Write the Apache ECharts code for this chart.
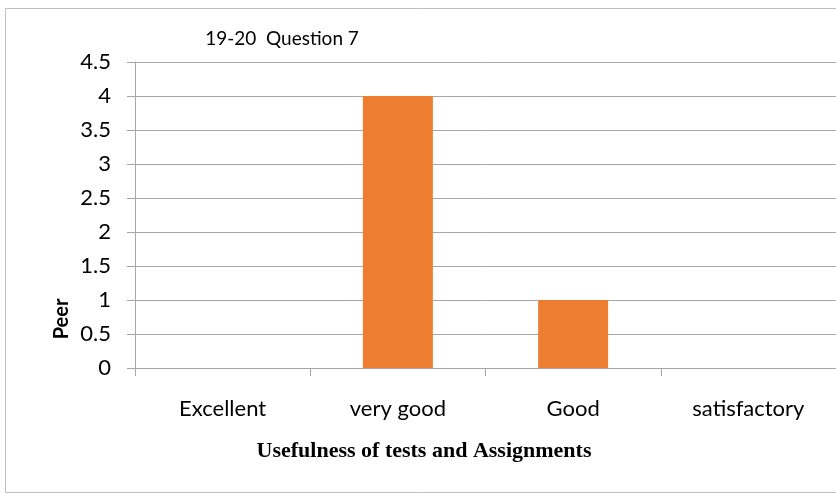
<!DOCTYPE html>
<html>
<head>
<meta charset="utf-8">
<script src="https://cdn.jsdelivr.net/npm/echarts@6/dist/echarts.min.js"></script>
<style>
  html, body { margin: 0; padding: 0; background: #fff; }
  #chartmain { width: 836px; height: 497px; }
</style>
</head>
<body>
<div id="chartmain"></div>
<script>
var categories = ['Excellent', 'very good', 'Good', 'satisfactory'];
var peerValues = [0, 4, 1, 0];
var titleText = '19-20  Question 7';
var xTitleText = 'Usefulness of tests and Assignments';
var yTitleText = 'Peer';

var myChart = echarts.init(document.getElementById('chartmain'));
var option = {
    backgroundColor: '#fff',
    animation: false,
    title: [
        {
            text: titleText,
            left: 277,
            top: 24,
            textAlign: 'center',
            textStyle: { fontFamily: 'Lato', fontSize: 19, fontWeight: 'normal', color: '#000' }
        },
        {
            text: xTitleText,
            left: 419,
            top: 435,
            textAlign: 'center',
            textStyle: { fontFamily: 'Liberation Serif', fontSize: 22, fontWeight: 'bold', color: '#000' }
        }
    ],
    graphic: [
        {
            type: 'rect',
            shape: { x: 5.5, y: 8.5, width: 845, height: 484 },
            style: { fill: 'none', stroke: '#bfbfbf', lineWidth: 1 },
            silent: true
        },
        {
            type: 'text',
            x: 62,
            y: 319,
            rotation: Math.PI / 2,
            style: {
                text: yTitleText,
                fontFamily: 'Lato',
                fontSize: 20,
                fontWeight: 'bold',
                fill: '#000',
                align: 'center',
                verticalAlign: 'middle'
            }
        }
    ],
    grid: { left: 135, top: 62, width: 704, height: 306 },
    xAxis: {
        type: 'category',
        data: categories,
        axisLine: { lineStyle: { color: '#a6a6a6', width: 1 } },
        axisTick: { show: true, alignWithLabel: false, length: 8, lineStyle: { color: '#a6a6a6' } },
        axisLabel: { margin: 30, color: '#000', fontFamily: 'Lato', fontSize: 22 }
    },
    yAxis: {
        type: 'value',
        min: 0,
        max: 4.5,
        interval: 0.5,
        axisLine: { show: true, lineStyle: { color: '#a6a6a6', width: 1 } },
        axisTick: { show: true, length: 8, lineStyle: { color: '#a6a6a6' } },
        axisLabel: { margin: 24, color: '#000', fontFamily: 'Lato', fontSize: 22 },
        splitLine: { lineStyle: { color: '#a6a6a6', width: 1 } }
    },
    series: [
        {
            name: yTitleText,
            type: 'bar',
            data: peerValues,
            barWidth: 70,
            itemStyle: { color: '#ED7D31' }
        }
    ]
};
myChart.setOption(option);
</script>
</body>
</html>
